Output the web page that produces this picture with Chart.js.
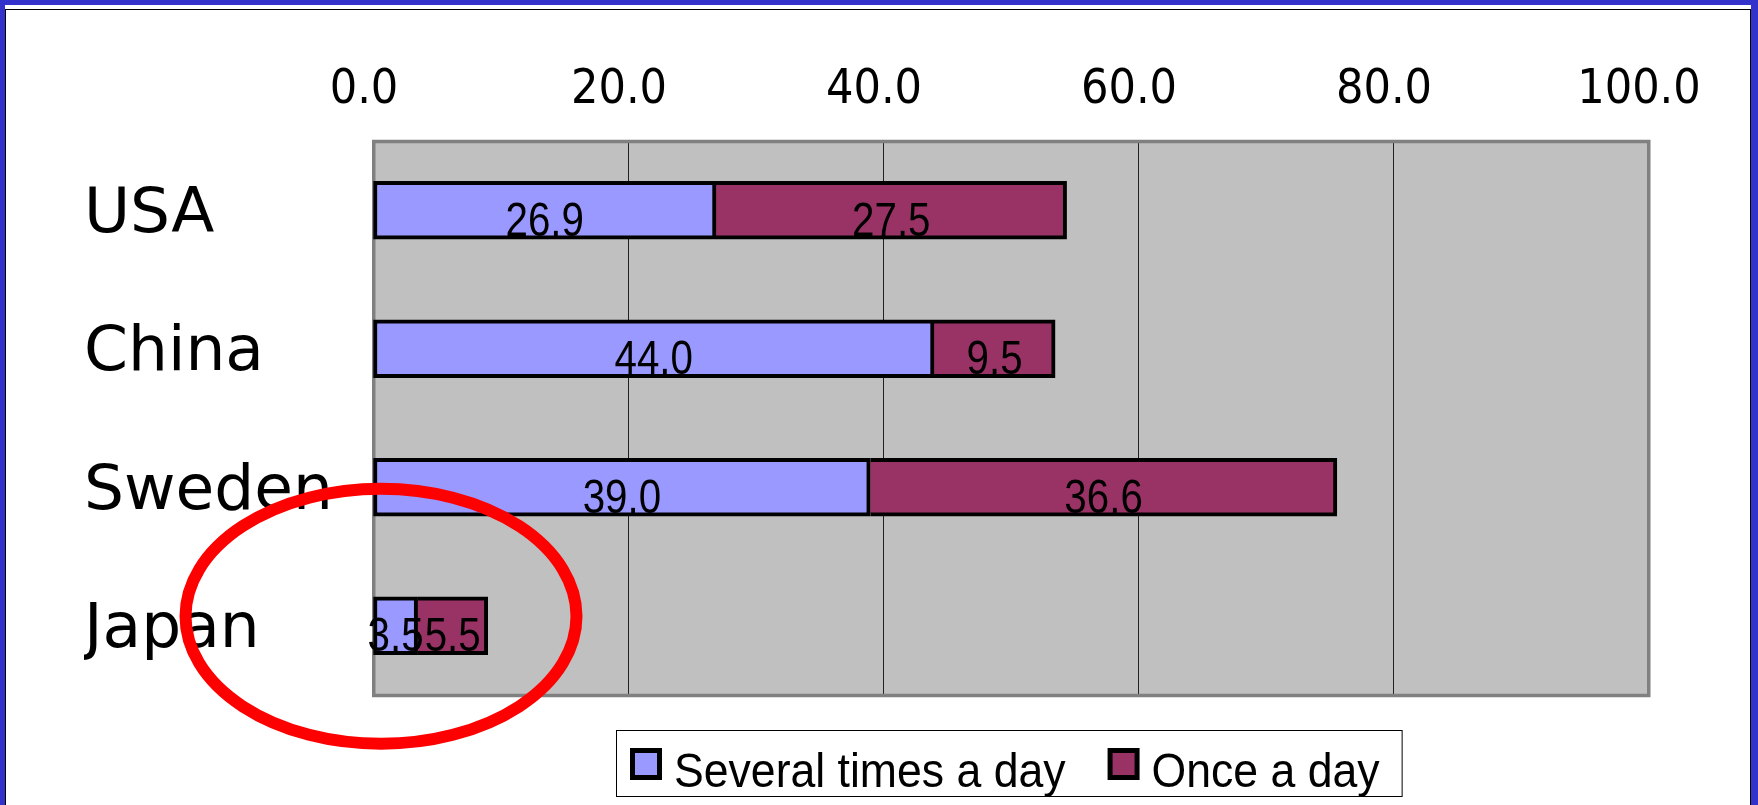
<!DOCTYPE html>
<html>
<head>
<meta charset="utf-8">
<title>Frequency by country</title>
<script src="https://cdn.jsdelivr.net/npm/chart.js@4/dist/chart.umd.min.js"></script>
<style>
  html, body { margin: 0; padding: 0; background: #fff; overflow: hidden; }
  #page { position: relative; width: 1758px; height: 805px; overflow: hidden; background: #fff; }
  .frame-blue {
    position: absolute; left: 0; top: 0; width: 1758px; height: 900px; box-sizing: border-box;
    border-left: 5px solid #3333cc; border-top: 5px solid #3333cc; border-right: 7px solid #3333cc;
  }
  .frame-line {
    position: absolute; left: 5px; top: 9px; width: 1746px; height: 900px; box-sizing: border-box;
    border: 1px solid #000;
  }
  #chart { position: absolute; left: 0; top: 0; }
</style>
</head>
<body>
<div id="page">
  <div class="frame-blue"></div>
  <div class="frame-line"></div>
  <canvas id="chart" width="1758" height="805"></canvas>
</div>
<script>
// Categories and stacked series values
const countries = ['USA', 'China', 'Sweden', 'Japan'];
const severalTimesADay = [26.9, 44.0, 39.0, 3.5];
const onceADay = [27.5, 9.5, 36.6, 5.5];
const seriesNames = ['Several times a day', 'Once a day'];
const seriesColors = ['#9999ff', '#993366'];
const valueAxisMin = 0;
const valueAxisMax = 100;
const valueAxisStep = 20;

const NARROW = "'Liberation Sans Narrow', 'Arial Narrow', 'DejaVu Sans Condensed', 'Liberation Sans', sans-serif";
const SANS = "'Liberation Sans', Arial, sans-serif";

// Condensed text helper (horizontal squeeze)
function drawCondensed(ctx, text, x, y, size, sx, align) {
  ctx.save();
  ctx.font = size + 'px ' + SANS;
  ctx.textAlign = align;
  ctx.textBaseline = 'alphabetic';
  ctx.translate(x, y);
  ctx.scale(sx, 1);
  ctx.fillText(text, 0, 0);
  ctx.restore();
}
function condensedWidth(ctx, text, size, sx) {
  ctx.save();
  ctx.font = size + 'px ' + SANS;
  const w = ctx.measureText(text).width * sx;
  ctx.restore();
  return w;
}

// Grey plot background
const plotBackground = {
  id: 'plotBackground',
  beforeDraw(chart) {
    const { ctx, chartArea: a } = chart;
    ctx.save();
    ctx.fillStyle = '#c0c0c0';
    ctx.fillRect(a.left, a.top, a.right - a.left, a.bottom - a.top);
    ctx.restore();
  }
};

// Plot frame, drawn above the grid and below the bars
const plotFrame = {
  id: 'plotFrame',
  beforeDatasetsDraw(chart) {
    const { ctx, chartArea: a } = chart;
    ctx.save();
    ctx.strokeStyle = '#808080';
    ctx.lineWidth = 3.5;
    ctx.strokeRect(a.left + 0.75, a.top + 0.5, a.right - a.left, a.bottom - a.top);
    ctx.restore();
  }
};

// Value labels inside each bar segment
const barValueLabels = {
  id: 'barValueLabels',
  afterDatasetsDraw(chart) {
    const { ctx } = chart;
    ctx.save();
    ctx.fillStyle = '#000';
    chart.data.datasets.forEach((ds, di) => {
      const meta = chart.getDatasetMeta(di);
      meta.data.forEach((el, i) => {
        const p = el.getProps(['x', 'y', 'base', 'height'], true);
        const cx = (p.x + p.base) / 2;
        const bottom = p.y + p.height / 2;
        drawCondensed(ctx, ds.data[i].toFixed(1), cx, bottom - 3.5, 48, 0.84, 'center');
      });
    });
    ctx.restore();
  }
};

// Boxed legend below the plot
const boxedLegend = {
  id: 'boxedLegend',
  afterDraw(chart) {
    const { ctx, chartArea: a } = chart;
    const size = 49, sx = 0.91;
    const box = 32, gap = 12, sep = 42, padL = 14, padR = 22;
    const items = chart.data.datasets.map(ds => ({
      label: ds.label, color: ds.backgroundColor,
      w: condensedWidth(ctx, ds.label, size, sx)
    }));
    let total = padL + padR;
    items.forEach((it, i) => { total += box + gap + it.w + (i ? sep : 0); });
    const cx = (a.left + a.right) / 2 - 1.5;
    const left = Math.round(cx - total / 2);
    const top = a.bottom + 35;
    const height = 66;
    ctx.save();
    ctx.fillStyle = '#fff';
    ctx.fillRect(left, top, total, height);
    ctx.strokeStyle = '#000';
    ctx.lineWidth = 1;
    ctx.strokeRect(left + 0.5, top + 0.5, total, height);
    let x = left + padL;
    items.forEach((it, i) => {
      if (i) x += sep;
      const by = top + 18;
      ctx.fillStyle = '#000';
      ctx.fillRect(x, by, box, box);
      ctx.fillStyle = it.color;
      ctx.fillRect(x + 5, by + 5, box - 10, box - 10);
      x += box + gap;
      ctx.fillStyle = '#000';
      drawCondensed(ctx, it.label, x, top + 57, size, sx, 'left');
      x += it.w;
    });
    ctx.restore();
  }
};

// Red ring highlighting the Japan row
const highlightRing = {
  id: 'highlightRing',
  afterDraw(chart) {
    const { ctx } = chart;
    const xs = chart.scales.x, ys = chart.scales.y;
    const cx = xs.getPixelForValue(0) + 8;
    const cy = ys.getPixelForValue(countries.indexOf('Japan')) - 9.5;
    ctx.save();
    ctx.strokeStyle = '#ff0000';
    ctx.lineWidth = 12;
    ctx.beginPath();
    ctx.ellipse(cx, cy, 195.5, 127.5, 0, 0, Math.PI * 2);
    ctx.stroke();
    ctx.restore();
  }
};

new Chart(document.getElementById('chart'), {
  type: 'bar',
  data: {
    labels: countries,
    datasets: [
      {
        label: seriesNames[0],
        data: severalTimesADay,
        backgroundColor: seriesColors[0],
        borderColor: '#000',
        borderWidth: 4,
        borderSkipped: false
      },
      {
        label: seriesNames[1],
        data: onceADay,
        backgroundColor: seriesColors[1],
        borderColor: '#000',
        borderWidth: 4,
        borderSkipped: 'start'
      }
    ]
  },
  options: {
    indexAxis: 'y',
    responsive: false,
    animation: false,
    devicePixelRatio: 1,
    barThickness: 58,
    layout: { padding: { left: 84, right: 110, top: 0, bottom: 110 } },
    plugins: {
      legend: { display: false },
      tooltip: { enabled: false }
    },
    scales: {
      x: {
        position: 'top',
        stacked: true,
        min: valueAxisMin,
        max: valueAxisMax,
        border: { display: false },
        grid: {
          drawTicks: false,
          lineWidth: 1,
          color: (c) => (c.tick && (c.tick.value === valueAxisMin || c.tick.value === valueAxisMax)) ? 'rgba(0,0,0,0)' : '#222'
        },
        ticks: {
          stepSize: valueAxisStep,
          callback: (v) => Number(v).toFixed(1),
          font: { family: NARROW, size: 48 },
          color: '#000',
          padding: 22,
          labelOffset: -9,
          maxRotation: 0,
          autoSkip: false
        },
        afterFit(scale) { scale.height = 141; }
      },
      y: {
        stacked: true,
        border: { display: false },
        grid: { display: false, drawTicks: false },
        ticks: {
          font: { family: "'DejaVu Sans', Verdana, sans-serif", size: 63 },
          color: '#000',
          crossAlign: 'far',
          padding: 0,
          labelOffset: 5
        },
        afterFit(scale) { scale.width = 289; }
      }
    }
  },
  plugins: [plotBackground, plotFrame, barValueLabels, boxedLegend, highlightRing]
});
</script>
</body>
</html>
